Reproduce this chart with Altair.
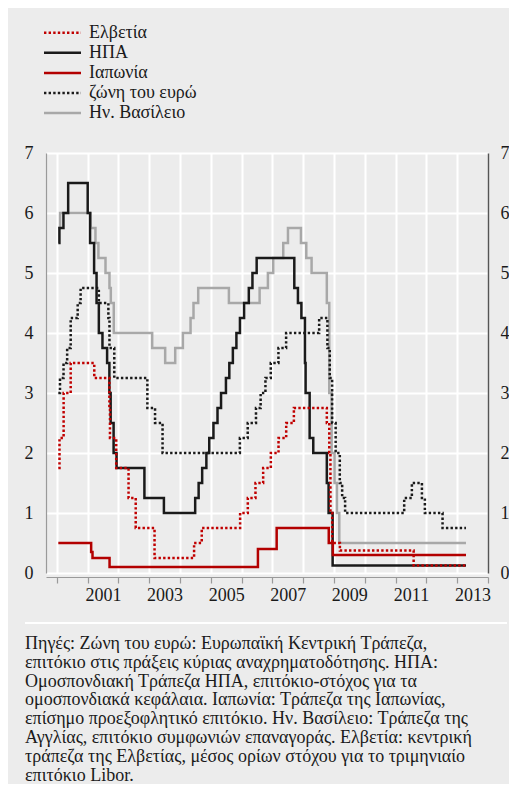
import altair as alt
import pandas as pd

# ---------------- data ----------------
SERIES = ["Ελβετία", "ΗΠΑ", "Ιαπωνία", "ζώνη του ευρώ", "Ην. Βασίλειο"]
START = "2000-01-20"
END = "2013-04-15"

swiss_dates = [START, "2000-02-03", "2000-03-23", "2000-06-15", "2001-03-22", "2001-09-17",
               "2001-09-24", "2001-12-07", "2002-05-02", "2002-07-26", "2003-03-06", "2004-06-17",
               "2004-09-16", "2005-12-15", "2006-03-16", "2006-06-15", "2006-09-14", "2006-12-14",
               "2007-03-15", "2007-06-14", "2007-09-13", "2008-10-08", "2008-11-06", "2008-11-20",
               "2008-12-11", "2009-03-12", "2011-08-03"]
swiss_vals = [1.75, 2.25, 3.0, 3.5, 3.25, 2.75, 2.25, 1.75, 1.25, 0.75, 0.25, 0.5, 0.75, 1.0,
              1.25, 1.5, 1.75, 2.0, 2.25, 2.5, 2.75, 2.5, 2.0, 1.0, 0.5, 0.375, 0.125]

us_dates = [START, "2000-02-02", "2000-03-21", "2000-05-16", "2001-01-03", "2001-01-31",
            "2001-03-20", "2001-04-18", "2001-05-15", "2001-06-27", "2001-08-21", "2001-09-17",
            "2001-10-02", "2001-11-06", "2001-12-11", "2002-11-06", "2003-06-25", "2004-06-30",
            "2004-08-10", "2004-09-21", "2004-11-10", "2004-12-14", "2005-02-02", "2005-03-22",
            "2005-05-03", "2005-06-30", "2005-08-09", "2005-09-20", "2005-11-01", "2005-12-13",
            "2006-01-31", "2006-03-28", "2006-05-10", "2006-06-29", "2007-09-18", "2007-10-31",
            "2007-12-11", "2008-01-22", "2008-01-30", "2008-03-18", "2008-04-30", "2008-10-08",
            "2008-10-29", "2008-12-16"]
us_vals = [5.5, 5.75, 6.0, 6.5, 6.0, 5.5, 5.0, 4.5, 4.0, 3.75, 3.5, 3.0, 2.5, 2.0, 1.75, 1.25,
           1.0, 1.25, 1.5, 1.75, 2.0, 2.25, 2.5, 2.75, 3.0, 3.25, 3.5, 3.75, 4.0, 4.25, 4.5, 4.75,
           5.0, 5.25, 4.75, 4.5, 4.25, 3.5, 3.0, 2.25, 2.0, 1.5, 1.0, 0.125]

jp_dates = [START, "2001-02-13", "2001-03-01", "2001-09-19", "2006-07-14", "2007-02-21",
            "2008-10-31", "2008-12-19"]
jp_vals = [0.5, 0.35, 0.25, 0.1, 0.4, 0.75, 0.5, 0.3]

eu_dates = [START, "2000-02-09", "2000-03-22", "2000-05-04", "2000-06-15", "2000-09-06",
            "2000-10-11", "2001-05-15", "2001-09-05", "2001-09-18", "2001-11-14", "2002-12-11",
            "2003-03-12", "2003-06-09", "2005-12-12", "2006-03-15", "2006-06-21", "2006-08-15",
            "2006-10-11", "2006-12-13", "2007-03-14", "2007-06-13", "2008-07-09", "2008-10-15",
            "2008-11-12", "2008-12-10", "2009-01-21", "2009-03-11", "2009-04-08", "2009-05-13",
            "2011-04-13", "2011-07-13", "2011-11-09", "2011-12-14", "2012-07-11"]
eu_vals = [3.0, 3.25, 3.5, 3.75, 4.25, 4.5, 4.75, 4.5, 4.25, 3.75, 3.25, 2.75, 2.5, 2.0, 2.25,
           2.5, 2.75, 3.0, 3.25, 3.5, 3.75, 4.0, 4.25, 3.75, 3.25, 2.5, 2.0, 1.5, 1.25, 1.0,
           1.25, 1.5, 1.25, 1.0, 0.75]

uk_dates = [START, "2000-02-10", "2001-02-08", "2001-04-05", "2001-05-10", "2001-08-02",
            "2001-09-18", "2001-10-04", "2001-11-08", "2003-02-06", "2003-07-10", "2003-11-06",
            "2004-02-05", "2004-05-06", "2004-06-10", "2004-08-05", "2005-08-04", "2006-08-03",
            "2006-11-09", "2007-01-11", "2007-05-10", "2007-07-05", "2007-12-06", "2008-02-07",
            "2008-04-10", "2008-10-08", "2008-11-06", "2008-12-04", "2009-01-08", "2009-02-05",
            "2009-03-05"]
uk_vals = [5.75, 6.0, 5.75, 5.5, 5.25, 5.0, 4.75, 4.5, 4.0, 3.75, 3.5, 3.75, 4.0, 4.25, 4.5,
           4.75, 4.5, 4.75, 5.0, 5.25, 5.5, 5.75, 5.5, 5.25, 5.0, 4.5, 3.0, 2.0, 1.5, 1.0, 0.5]

year_ticks = list(range(2000, 2015))
y_ticks = list(range(0, 8))

caption_lines = [
    "Πηγές: Ζώνη του ευρώ: Ευρωπαϊκή Κεντρική Τράπεζα,",
    "επιτόκιο στις πράξεις κύριας αναχρηματοδότησης. ΗΠΑ:",
    "Ομοσπονδιακή Τράπεζα ΗΠΑ, επιτόκιο-στόχος για τα",
    "ομοσπονδιακά κεφάλαια. Ιαπωνία: Τράπεζα της Ιαπωνίας,",
    "επίσημο προεξοφλητικό επιτόκιο. Ην. Βασίλειο: Τράπεζα της",
    "Αγγλίας, επιτόκιο συμφωνιών επαναγοράς. Ελβετία: κεντρική",
    "τράπεζα της Ελβετίας, μέσος ορίων στόχου για το τριμηνιαίο",
    "επιτόκιο Libor.",
]

# ---------------- styling ----------------
FONT = "Liberation Serif, DejaVu Serif, serif"
COLORS = ["#c00000", "#1a1a1a", "#b30000", "#1a1a1a", "#a8a8a8"]
DASHES = [[2.4, 2.2], [1, 0], [1, 0], [2.4, 2.2], [1, 0]]
BG = "#ececec"
TEXT = "#1a1a1a"
DRAW_ORDER = ["Ην. Βασίλειο", "ζώνη του ευρώ", "ΗΠΑ", "Ιαπωνία", "Ελβετία"]


def to_dec(s):
    d = pd.Timestamp(s)
    n = 366 if d.is_leap_year else 365
    return d.year + (d.dayofyear - 1) / n


def make_df(name, dates, vals):
    assert len(dates) == len(vals)
    t = [to_dec(d) for d in dates] + [to_dec(END)]
    v = list(vals) + [vals[-1]]
    return pd.DataFrame({"t": t, "v": v, "s": name})


raw = {
    "Ελβετία": (swiss_dates, swiss_vals),
    "ΗΠΑ": (us_dates, us_vals),
    "Ιαπωνία": (jp_dates, jp_vals),
    "ζώνη του ευρώ": (eu_dates, eu_vals),
    "Ην. Βασίλειο": (uk_dates, uk_vals),
}
frames = {k: make_df(k, *v) for k, v in raw.items()}
all_df = pd.concat(frames.values(), ignore_index=True)

x_scale = alt.Scale(domain=[1999.652, 2014.0], nice=False, zero=False)
y_scale = alt.Scale(domain=[0, 7], nice=False, zero=True)

x_axis = alt.Axis(values=year_ticks, labelExpr="datum.value % 2 == 1 ? '' + datum.value : ''",
                  labelOffset=15.4, labelOverlap=False, labelFlush=False, labelBound=False,
                  labelFont=FONT, labelFontSize=18, labelColor=TEXT, labelPadding=3,
                  tickColor="#9a9a9a", tickSize=6, tickWidth=1.2, domainColor="#9a9a9a",
                  domainWidth=1.2, offset=4, grid=True, gridColor="white", gridWidth=2,
                  title=None)
y_left = alt.Axis(values=y_ticks, orient="left", ticks=False, domainColor="#9a9a9a",
                  domainWidth=1.2, labelPadding=13, labelFont=FONT, labelFontSize=18,
                  labelColor=TEXT, labelFlush=False, grid=True, gridColor="white",
                  gridWidth=2, title=None, format="d")
y_right = alt.Axis(values=y_ticks, orient="right", ticks=False, domainColor="#555555",
                   domainWidth=1.5, labelPadding=12, labelFont=FONT, labelFontSize=18,
                   labelColor=TEXT, labelFlush=False, grid=False, title=None, format="d")

color_enc = alt.Color("s:N", scale=alt.Scale(domain=SERIES, range=COLORS), legend=None)
dash_enc = alt.StrokeDash("s:N", scale=alt.Scale(domain=SERIES, range=DASHES), legend=None)

layers = []
for i, name in enumerate(DRAW_ORDER):
    layers.append(
        alt.Chart(frames[name]).mark_line(interpolate="step-after", strokeWidth=2.5,
                                          strokeCap="butt").encode(
            x=alt.X("t:Q", scale=x_scale, axis=x_axis),
            y=alt.Y("v:Q", scale=y_scale, axis=y_left if i == 0 else None),
            color=color_enc,
            strokeDash=dash_enc,
        )
    )

# right-hand axis (invisible layer)
layers.append(
    alt.Chart(all_df).mark_point(opacity=0).encode(
        x=alt.X("t:Q", scale=x_scale, axis=x_axis),
        y=alt.Y("v:Q", scale=y_scale, axis=y_right),
    )
)

# manual legend (positions in px relative to plot origin)
for i, name in enumerate(SERIES):
    ly = -120.3 + i * 20.1
    ldf = pd.DataFrame({"s": [name]})
    layers.append(
        alt.Chart(ldf).mark_rule(strokeWidth=2.5, strokeCap="butt").encode(
            x=alt.value(-2), x2=alt.value(35), y=alt.value(ly),
            color=color_enc, strokeDash=dash_enc,
        )
    )
    layers.append(
        alt.Chart(ldf).mark_text(align="left", baseline="middle", font=FONT, fontSize=18,
                                 color=TEXT).encode(
            x=alt.value(43), y=alt.value(ly), text="s:N",
        )
    )

# separator line and caption
sep = alt.Chart(pd.DataFrame({"a": [0]})).mark_rule(color="white", strokeWidth=2.2).encode(
    x=alt.value(-21), x2=alt.value(461), y=alt.value(470)
)
caption = alt.Chart(pd.DataFrame({"a": [0]})).mark_text(
    text=caption_lines, align="left", baseline="alphabetic", font=FONT, fontSize=18,
    lineHeight=18.8, color=TEXT
).encode(x=alt.value(-21), y=alt.value(496))
layers += [sep, caption]

chart = alt.layer(*layers).resolve_scale(y="independent").properties(
    width=442, height=420,
    padding={"left": 38, "top": 145, "right": 21, "bottom": 211},
    autosize=alt.AutoSizeParams(type="none"),
    background=BG,
).configure_view(stroke=None)

chart.save("out.html", embed_options={"renderer": "svg", "actions": False})
